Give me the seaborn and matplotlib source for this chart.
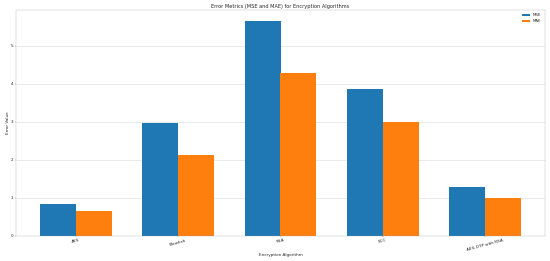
import matplotlib
matplotlib.use("Agg")
import matplotlib.pyplot as plt
import seaborn as sns
import pandas as pd

# Data
algorithms = ["AES", "Blowfish", "RSA", "ECC", "AES-OTP with RSA"]
mse_values = [0.84, 2.97, 5.66, 3.87, 1.29]
mae_values = [0.66, 2.13, 4.29, 3.00, 1.00]

df = pd.DataFrame({
    "Algorithm": algorithms * 2,
    "Metric": ["MSE"] * len(algorithms) + ["MAE"] * len(algorithms),
    "Value": mse_values + mae_values,
})

sns.set_style("ticks")
plt.rcParams["font.family"] = ["DejaVu Sans"]

fig, ax = plt.subplots(figsize=(22, 10.44), dpi=25)
sns.barplot(data=df, x="Algorithm", y="Value", hue="Metric",
            palette=["#1f77b4", "#ff7f0e"], saturation=1, width=0.7,
            errorbar=None, linewidth=0, ax=ax)

ax.set_xlim(-0.585, 4.585)
ax.set_title("Error Metrics (MSE and MAE) for Encryption Algorithms", fontsize=14.5)
ax.set_xlabel("Encryption Algorithm", fontsize=12)
ax.set_ylabel("Error Value", fontsize=12)
ax.tick_params(labelsize=12)
plt.setp(ax.get_xticklabels(), rotation=15, ha="center")
ax.grid(axis="y", color="#cccccc", linewidth=1.5, alpha=0.8)
ax.set_axisbelow(True)
for s in ax.spines.values():
    s.set_edgecolor("#999999")
ax.legend(loc="upper right", title=None, fontsize=11, frameon=False)

plt.subplots_adjust(left=0.029, right=0.991, top=0.962, bottom=0.096)
plt.savefig("out.png")
